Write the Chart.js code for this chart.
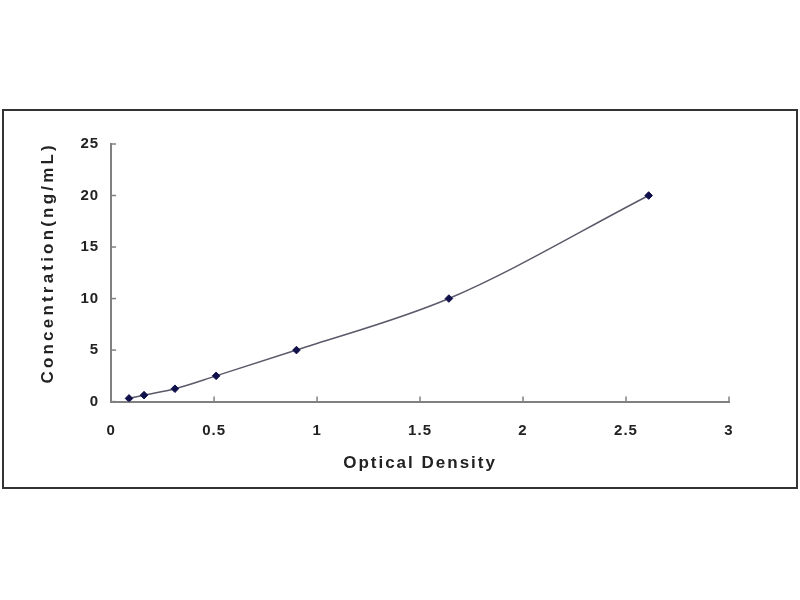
<!DOCTYPE html>
<html>
<head>
<meta charset="utf-8">
<script src="https://cdn.jsdelivr.net/npm/chart.js@4.4.1/dist/chart.umd.min.js"></script>
<style>
  html, body { margin: 0; padding: 0; background: #fff; width: 800px; height: 600px; overflow: hidden; }
  #frame { position: absolute; left: 2px; top: 109px; width: 792px; height: 376px; border: 2px solid #333; background: #fff; }
  #c { position: absolute; left: 0; top: 0; }
</style>
</head>
<body>
<div id="frame"><canvas id="c" width="792" height="376"></canvas></div>
<script>
const odValues   = [0.087, 0.16, 0.31, 0.51, 0.90, 1.64, 2.61];
const concValues = [0.312, 0.625, 1.25, 2.5, 5, 10, 20];
const xTicks = [0, 0.5, 1, 1.5, 2, 2.5, 3];
const yTicks = [0, 5, 10, 15, 20, 25];
const xTitle = 'Optical Density';
const yTitle = 'Concentration(ng/mL)';

const points = odValues.map((x, i) => ({ x: x, y: concValues[i] }));

const innerTicks = {
  id: 'innerTicks',
  beforeDraw(chart) {
    chart.ctx.letterSpacing = '1px';
    ['x', 'y'].forEach(id => {
      const s = chart.scales[id];
      if (!s._spacedTitle) {
        const orig = s.drawTitle;
        s.drawTitle = function () {
          const ctx = this.ctx;
          ctx.save();
          ctx.letterSpacing = id === 'y' ? '3.2px' : '2px';
          if (id === 'y') ctx.translate(0, -10);
          orig.apply(this, arguments);
          ctx.restore();
        };
        s._spacedTitle = true;
      }
    });
  },
  afterDraw(chart) {
    const ctx = chart.ctx;
    const xs = chart.scales.x, ys = chart.scales.y;
    ctx.save();
    ctx.strokeStyle = '#808080';
    ctx.lineWidth = 1.5;
    xTicks.forEach(v => {
      const px = xs.getPixelForValue(v);
      ctx.beginPath(); ctx.moveTo(px, ys.bottom); ctx.lineTo(px, ys.bottom - 5); ctx.stroke();
    });
    yTicks.forEach(v => {
      const py = ys.getPixelForValue(v);
      ctx.beginPath(); ctx.moveTo(xs.left, py); ctx.lineTo(xs.left + 5, py); ctx.stroke();
    });
    ctx.restore();
  }
};

const tickFont = { family: 'Liberation Sans, Arial', size: 15, weight: 'bold' };
const titleFont = { family: 'Liberation Sans, Arial', size: 17, weight: 'bold' };

new Chart(document.getElementById('c'), {
  type: 'scatter',
  data: {
    datasets: [{
      data: points,
      showLine: true,
      borderColor: '#5a5a6a',
      borderWidth: 1.5,
      tension: 0.4,
      cubicInterpolationMode: 'monotone',
      pointStyle: 'rectRot',
      pointRadius: 3.8,
      pointBackgroundColor: '#10104a',
      pointBorderColor: '#10104a',
      pointBorderWidth: 1
    }]
  },
  options: {
    responsive: false,
    animation: false,
    layout: { padding: { left: 30, right: 67, top: 33, bottom: 13 } },
    plugins: { legend: { display: false }, tooltip: { enabled: false } },
    scales: {
      x: {
        type: 'linear', min: 0, max: 3,
        afterBuildTicks: s => { s.ticks = xTicks.map(v => ({ value: v })); },
        grid: { display: false, drawTicks: false },
        border: { display: true, color: '#808080', width: 2 },
        ticks: { color: '#222', padding: 20, font: tickFont, callback: v => String(v) },
        title: { display: true, text: xTitle, color: '#222', padding: { top: -6, bottom: 0 }, font: titleFont }
      },
      y: {
        type: 'linear', min: 0, max: 25,
        afterBuildTicks: s => { s.ticks = yTicks.map(v => ({ value: v })); },
        grid: { display: false, drawTicks: false },
        border: { display: true, color: '#808080', width: 2 },
        ticks: { color: '#222', padding: 12, font: tickFont, callback: v => String(v) },
        title: { display: true, text: yTitle, color: '#222', padding: { bottom: 12 }, font: titleFont }
      }
    }
  },
  plugins: [innerTicks]
});
</script>
</body>
</html>
